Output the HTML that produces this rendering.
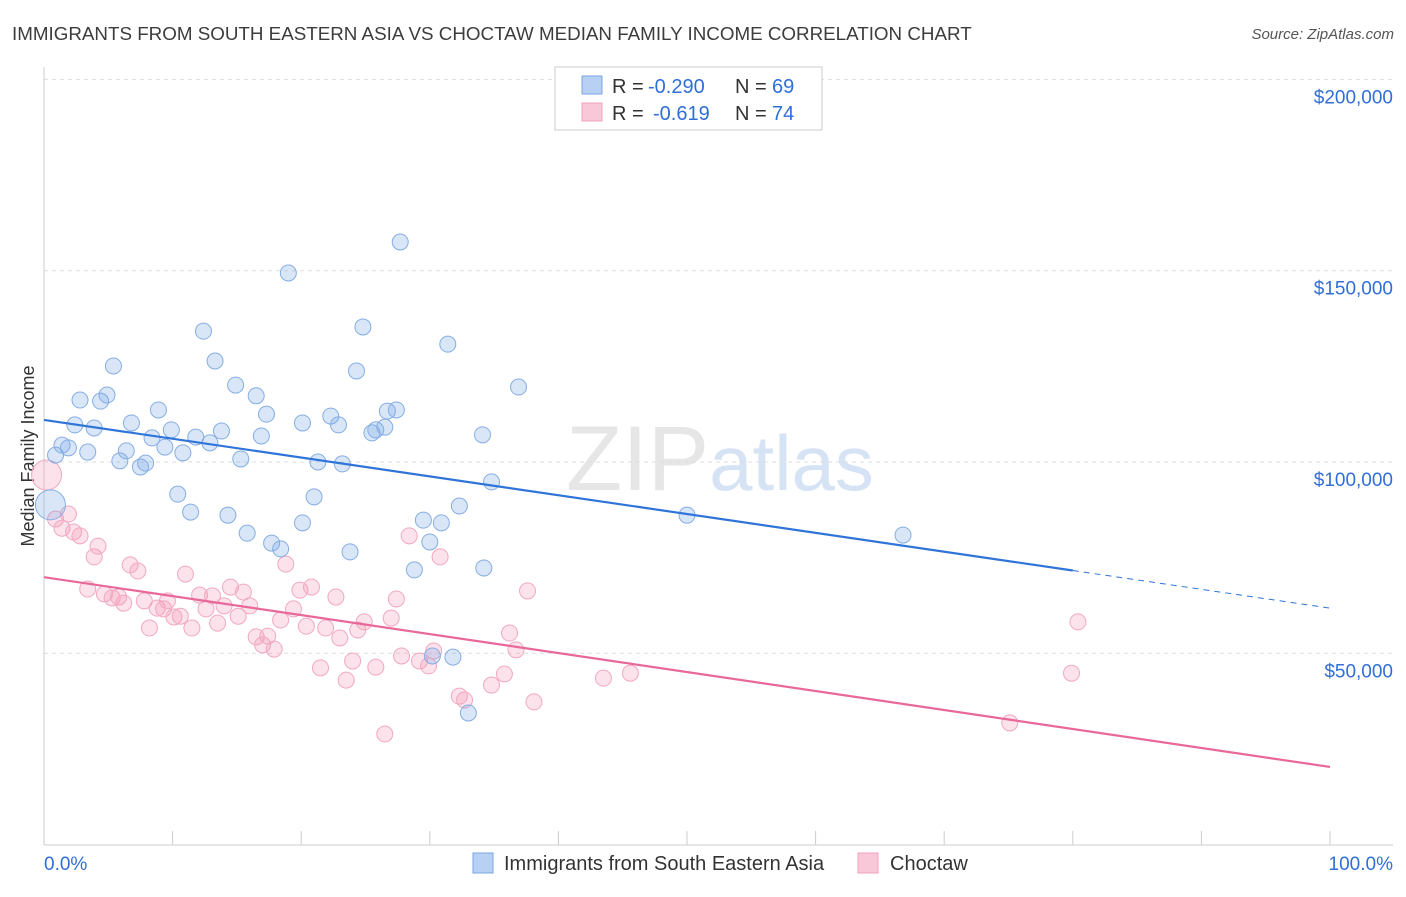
<!DOCTYPE html>
<html><head><meta charset="utf-8"><style>
body{margin:0;background:#fff;font-family:"Liberation Sans",sans-serif;}
svg text{font-family:"Liberation Sans",sans-serif;}
</style></head><body>
<svg id="chart" width="1406" height="892" xmlns="http://www.w3.org/2000/svg">
<text x="12" y="40" font-size="18.8" fill="#3c3c3c">IMMIGRANTS FROM SOUTH EASTERN ASIA VS CHOCTAW MEDIAN FAMILY INCOME CORRELATION CHART</text>
<text x="1394" y="39" font-size="15" fill="#555" font-style="italic" text-anchor="end">Source: ZipAtlas.com</text>
<text x="720" y="490" font-size="92" text-anchor="middle" fill="#e6e6e6" font-family="Liberation Serif,serif">ZIP<tspan fill="#d6e3f5" font-family="Liberation Sans,sans-serif" font-size="78">atlas</tspan></text>
<text transform="translate(34,456) rotate(-90)" font-size="18" fill="#333" text-anchor="middle">Median Family Income</text>
<g id="grid"></g><g id="marks"></g>
<g>
<rect x="555" y="67" width="267" height="63" fill="#fff" stroke="#ccc"/>
<rect x="582" y="76" width="20" height="18" fill="#b8d0f3" stroke="#7aa6e0"/>
<rect x="582" y="103" width="20" height="18" fill="#f9c8d8" stroke="#f0a0bc"/>
<text x="612" y="93" font-size="20" fill="#333">R =</text>
<text x="648" y="93" font-size="20" fill="#2f6fd6">-0.290</text>
<text x="735" y="93" font-size="20" fill="#333">N =</text>
<text x="772" y="93" font-size="20" fill="#2f6fd6">69</text>
<text x="612" y="120" font-size="20" fill="#333">R =</text>
<text x="653" y="120" font-size="20" fill="#2f6fd6">-0.619</text>
<text x="735" y="120" font-size="20" fill="#333">N =</text>
<text x="772" y="120" font-size="20" fill="#2f6fd6">74</text>
</g>
<g>
<rect x="473" y="853" width="20" height="20" fill="#b8d0f3" stroke="#7aa6e0"/>
<text x="504" y="870" font-size="20" fill="#333">Immigrants from South Eastern Asia</text>
<rect x="858" y="853" width="20" height="20" fill="#f9c8d8" stroke="#f0a0bc"/>
<text x="890" y="870" font-size="20" fill="#333">Choctaw</text>
</g>
</svg>
<script>
const yTicks=[200000,150000,100000,50000];
const yTickLabels=["$200,000","$150,000","$100,000","$50,000"];
const xLabels=["0.0%","100.0%"];
const blueX=[0.5,0.9,1.4,1.9,2.4,2.8,3.4,3.9,4.4,4.9,5.4,5.9,6.4,6.8,7.5,7.9,8.4,8.9,9.4,9.9,10.4,10.8,11.4,11.8,12.4,12.9,13.3,13.8,14.3,14.9,15.3,15.8,16.5,16.9,17.3,17.7,18.4,19.0,20.1,20.1,21.0,21.3,22.3,22.9,23.2,23.8,24.3,24.8,25.5,25.8,26.5,26.7,27.4,27.7,28.8,29.5,30.0,30.9,30.2,31.4,31.8,32.3,33.0,34.1,34.2,34.8,36.9,50.0,66.8];
const blueY=[88.8,101.8,104.4,103.7,109.7,116.2,102.6,108.9,115.9,117.5,125.1,100.3,102.9,110.2,98.7,99.7,106.3,113.6,103.9,108.4,91.6,102.4,86.9,106.5,134.2,105.0,126.4,108.1,86.1,120.1,100.8,81.4,117.3,106.8,112.5,78.8,77.3,149.4,110.2,84.1,90.9,100,112.0,109.7,99.5,76.5,123.8,135.3,107.6,108.4,109.1,113.3,113.6,157.5,71.8,84.8,79.1,84.1,49.3,130.8,49.0,88.5,34.4,107.1,72.3,94.8,119.6,86.1,80.9];
const pinkX=[0.2,0.9,1.4,1.9,2.3,2.8,3.4,3.9,4.2,4.7,5.3,5.8,6.2,6.7,7.3,7.8,8.2,8.8,9.3,9.6,10.1,10.6,11.0,11.5,12.1,12.6,13.1,13.5,14.0,14.5,15.1,15.5,16.0,16.5,17.0,17.4,17.9,18.4,18.8,19.4,19.9,20.4,20.8,21.5,21.9,22.7,23.0,23.5,24.0,24.4,24.9,25.8,26.5,27.0,27.4,27.8,28.4,29.2,29.9,30.3,30.8,32.3,32.7,34.8,35.8,36.2,36.7,37.6,38.1,43.5,45.6,75.1,79.9,80.4];
const pinkY=[96.6,85.1,82.7,86.4,81.7,80.7,66.8,75.2,78.0,65.5,64.5,64.7,63.1,73.1,71.5,63.7,56.6,61.8,61.6,63.7,59.5,59.7,70.7,56.6,65.2,61.6,65.0,57.9,62.4,67.3,59.7,66.0,62.4,54.3,52.2,54.5,51.1,58.7,73.3,61.6,66.5,57.1,67.3,46.2,56.6,64.7,54.0,43.0,48.0,56.1,58.2,46.4,28.9,59.2,64.2,49.3,80.7,48.0,46.7,50.6,75.2,38.8,37.8,41.7,44.6,55.3,50.9,66.3,37.3,43.5,44.8,31.8,44.8,58.2];
const blueTrend=[111.0,61.8];
const pinkTrend=[69.9,20.3];
const sx=p=>44+p*12.86;
const sy=v=>462-(v-100)*3.826;
const NS="http://www.w3.org/2000/svg";
const grid=document.getElementById('grid'),marks=document.getElementById('marks');
function mk(tag,attrs,parent){const e=document.createElementNS(NS,tag);for(const k in attrs)e.setAttribute(k,attrs[k]);parent.appendChild(e);return e;}
yTicks.forEach((t,i)=>{const y=sy(t/1000);
const g=mk('line',{x1:44,x2:1393,y1:y,y2:y,stroke:'#ddd','stroke-dasharray':'4,4'},grid);


const tx=mk('text',{x:1393,y:y+24,'font-size':19,fill:'#2f6fd6','text-anchor':'end'},grid);tx.textContent=yTickLabels[i];

});
let ax=mk('line',{x1:44,x2:44,y1:67,y2:845,stroke:'#ccc'},grid);


ax=mk('line',{x1:44,x2:1393,y1:845,y2:845,stroke:'#ccc'},grid);


for(let i=1;i<=10;i++){const x=sx(i*10);const t=mk('line',{x1:x,x2:x,y1:831,y2:845,stroke:'#ccc'},grid);

}
let xl=mk('text',{x:44,y:870,'font-size':19,fill:'#2f6fd6'},grid);xl.textContent=xLabels[0];


xl=mk('text',{x:1393,y:870,'font-size':19,fill:'#2f6fd6','text-anchor':'end'},grid);xl.textContent=xLabels[1];


function pts(X,Y,fill,stroke,name){X.forEach((x,i)=>{const r=(i===0)?15:8;
const c=mk('circle',{cx:sx(x),cy:sy(Y[i]),r:r,fill:fill,stroke:stroke,'stroke-width':1},marks);

});}
pts(pinkX,pinkY,'rgba(245,150,180,0.28)','#f2a8c2','pink-point');
pts(blueX,blueY,'rgba(120,165,230,0.28)','#85aee3','blue-point');
const lerp=(a,p)=>a[0]+(a[1]-a[0])*p/100;
let l=mk('line',{x1:sx(0),y1:sy(lerp(blueTrend,0)),x2:sx(80),y2:sy(lerp(blueTrend,80)),stroke:'#2f74d8','stroke-width':2.2},marks);


l=mk('line',{x1:sx(80),y1:sy(lerp(blueTrend,80)),x2:sx(100),y2:sy(lerp(blueTrend,100)),stroke:'#2f74d8','stroke-width':1,'stroke-dasharray':'6,5'},marks);


l=mk('line',{x1:sx(0),y1:sy(lerp(pinkTrend,0)),x2:sx(100),y2:sy(lerp(pinkTrend,100)),stroke:'#e8689a','stroke-width':2.2},marks);


</script>
</body></html>
